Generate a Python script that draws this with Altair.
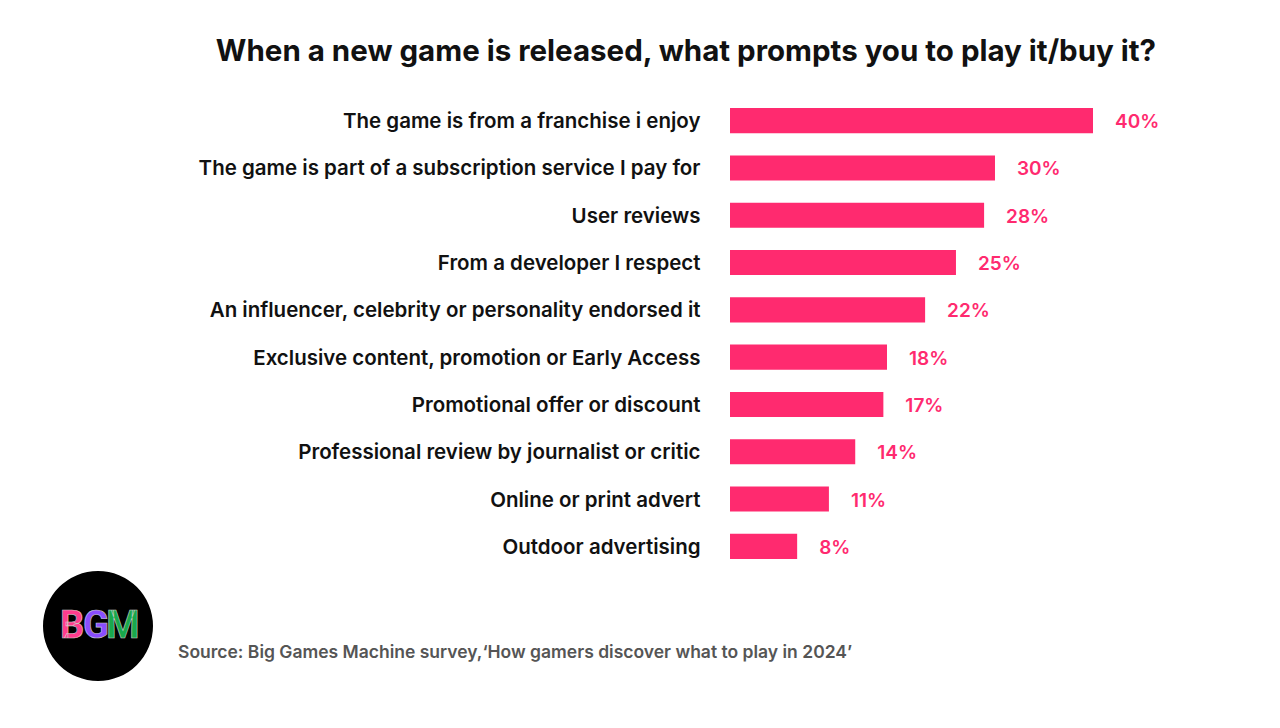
import altair as alt
import pandas as pd

categories = [
    "The game is from a franchise i enjoy",
    "The game is part of a subscription service I pay for",
    "User reviews",
    "From a developer I respect",
    "An influencer, celebrity or personality endorsed it",
    "Exclusive content, promotion or Early Access",
    "Promotional offer or discount",
    "Professional review by journalist or critic",
    "Online or print advert",
    "Outdoor advertising",
]
values = [40.0, 29.2, 28.0, 24.9, 21.5, 17.3, 16.9, 13.8, 10.9, 7.4]
value_labels = ["40%", "30%", "28%", "25%", "22%", "18%", "17%", "14%", "11%", "8%"]

title_text = "When a new game is released, what prompts you to play it/buy it?"
source_text = "Source: Big Games Machine survey,\u2018How gamers discover what to play in 2024\u2019"
logo_letters = ["B", "G", "M"]
logo_colors = ["#FF3C8E", "#8A4DFF", "#19A84B"]

PINK = "#FF2A6F"
FONT = "Inter"

df = pd.DataFrame({"cat": categories, "val": values, "lab": value_labels})

y_enc = alt.Y(
    "cat:N",
    sort=categories,
    scale=alt.Scale(paddingInner=0.47, paddingOuter=0.235),
    axis=alt.Axis(
        title=None, domain=False, ticks=False, labelPadding=30,
        labelFont=FONT, labelFontSize=20.5, labelFontWeight=600,
        labelColor="#111111", labelLimit=720, labelOffset=1.5,
    ),
)
x_enc = alt.X("val:Q", scale=alt.Scale(domain=[0, 40]), axis=None)

bars = alt.Chart(df).mark_bar(color=PINK).encode(x=x_enc, y=y_enc)
labels = alt.Chart(df).mark_text(
    align="left", baseline="middle", dx=22, dy=1.5, color=PINK,
    font=FONT, fontSize=19, fontWeight=600,
).encode(x=x_enc, y=alt.Y("cat:N", sort=categories), text="lab:N")

one = pd.DataFrame({"t": [title_text]})
title = alt.Chart(one).mark_text(
    align="center", baseline="middle", font=FONT, fontSize=29.5,
    fontWeight=700, color="#111111",
).encode(x=alt.value(-44), y=alt.value(-45), text="t:N")

src = alt.Chart(pd.DataFrame({"t": [source_text]})).mark_text(
    align="left", baseline="middle", font=FONT, fontSize=17.5,
    fontWeight=600, color="#555555",
).encode(x=alt.value(-552), y=alt.value(556), text="t:N")

circle = alt.Chart(one).mark_point(
    shape="circle", filled=True, color="#000000", opacity=1, size=12100,
).encode(x=alt.value(-632), y=alt.value(529))

logo_x = [-658, -634, -607]
logo_layers = []
for ltr, col, lx in zip(logo_letters, logo_colors, logo_x):
    logo_layers.append(
        alt.Chart(pd.DataFrame({"l": [ltr]})).mark_text(
            align="center", baseline="middle", font="Roboto",
            fontSize=38, fontWeight=700, color=col, stroke="#cccccc",
            strokeWidth=0.6,
        ).encode(x=alt.value(lx), y=alt.value(530), text="l:N")
    )

chart = alt.layer(bars, labels, title, src, circle, *logo_layers).properties(
    width=363, height=473,
    autosize=alt.AutoSizeParams(type="none"),
    padding={"left": 722, "top": 89, "right": 170, "bottom": 140},
).configure(background="white", view=alt.ViewConfig(stroke=None))

chart.save("out.html", embed_options={"renderer": "svg", "actions": False})
